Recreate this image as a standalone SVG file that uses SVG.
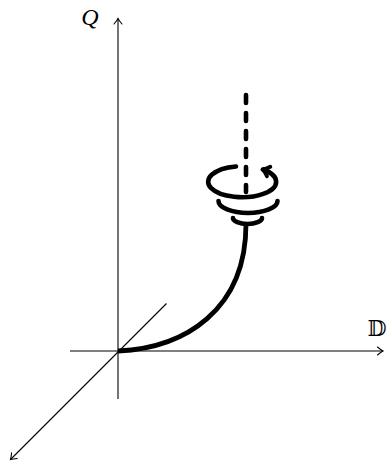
<svg xmlns="http://www.w3.org/2000/svg" width="389" height="461" viewBox="0 0 389 461">
<defs>
<style>
.axis{fill:none;stroke:#000;stroke-width:1.1}
.thick{fill:none;stroke:#000;stroke-width:4.6;stroke-linecap:round}
.lbl{font-family:"Liberation Serif","DejaVu Serif",serif;fill:#000}
</style>
<marker id="ah" markerUnits="userSpaceOnUse" markerWidth="12" markerHeight="12" viewBox="-7 -6 9 12" refX="0" refY="0" orient="auto">
<path d="M-5.5,-4 Q-2,-1 0,0 Q-2,1 -5.5,4" fill="none" stroke="#000" stroke-width="1.1" stroke-linecap="round"/>
</marker>
<marker id="ahb" markerUnits="userSpaceOnUse" markerWidth="20" markerHeight="20" viewBox="-10 -10 20 20" refX="0" refY="0" orient="auto">
<path d="M-6,-5 Q-2.5,-1.2 0.5,0 Q-2.5,1.2 -6,5" fill="none" stroke="#000" stroke-width="3.8" stroke-linecap="round" stroke-linejoin="round"/>
</marker>
</defs>
<rect width="389" height="461" fill="#fff"/>
<g id="axes">
<line class="axis" x1="118" y1="399" x2="118" y2="18.5" marker-end="url(#ah)"/>
<line class="axis" x1="70" y1="351" x2="383" y2="351" marker-end="url(#ah)"/>
<line class="axis" x1="166.5" y1="303.5" x2="10.5" y2="459.5" marker-end="url(#ah)"/>
</g>
<g id="labels">
<text class="lbl" x="90" y="25" font-size="24" font-style="italic" text-anchor="middle">Q</text>
<text class="lbl" x="377" y="336" font-size="22" text-anchor="middle" font-family="'DejaVu Serif','DejaVu Sans',serif">𝔻</text>
</g>
<g id="connectors">
<path id="trajectory" d="M118,351 C185,348 246,310 246,224" fill="none" stroke="#000" stroke-width="4.8" stroke-linecap="butt"/>
</g>
<g id="vortex">
<line class="thick" x1="246" y1="95" x2="246" y2="192" stroke-width="4.4" stroke-dasharray="8 10"/>
<path class="thick" d="M236,166.5 A34,15.5 0 1 0 263,169.5" marker-end="url(#ahb)"/>
<path class="thick" d="M218.5,201 A29.5,12 0 0 0 277.5,201"/>
<path class="thick" d="M233,218 A14.5,6 0 0 0 262,218"/>
</g>
</svg>
